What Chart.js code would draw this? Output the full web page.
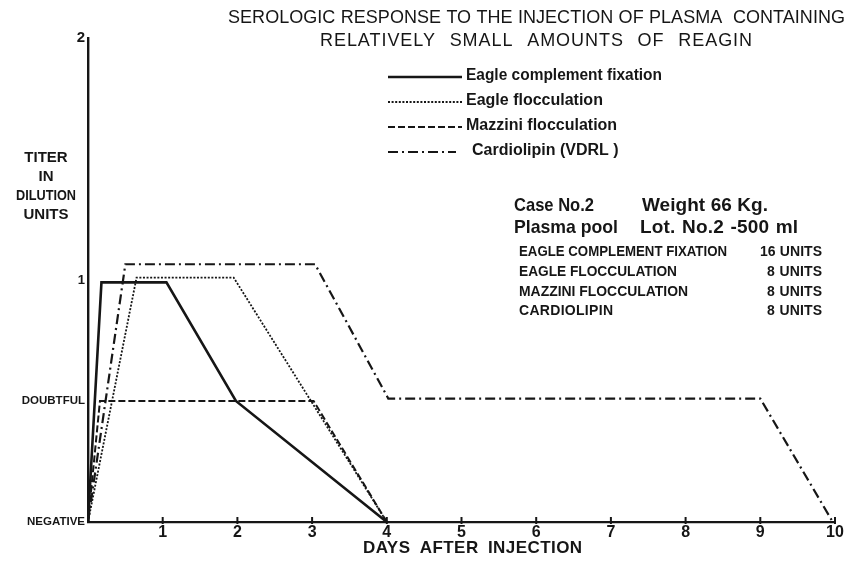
<!DOCTYPE html>
<html>
<head>
<meta charset="utf-8">
<script src="https://cdn.jsdelivr.net/npm/chart.js@4/dist/chart.umd.min.js"></script>
<style>
  html, body { margin: 0; padding: 0; background: #ffffff; }
  #wrap { width: 856px; height: 563px; }
</style>
</head>
<body>
<div id="wrap"><canvas id="c" width="856" height="563"></canvas></div>
<script>
// ---- Data ----
const seriesNames = [
  "Eagle complement fixation",
  "Eagle flocculation",
  "Mazzini flocculation",
  "Cardiolipin (VDRL )"
];
const eagleCFDays    = [0, 0.18, 1.05, 1.98, 4];
const eagleCFTiter   = [0, 0.99, 0.99, 0.5, 0];
const eagleFlocDays  = [0, 0.65, 1.95, 4];
const eagleFlocTiter = [0, 1.01, 1.01, 0];
const mazziniDays    = [0, 0.16, 3.02, 4];
const mazziniTiter   = [0, 0.5, 0.5, 0];
const cardioDays     = [0, 0.5, 3.04, 4.02, 9.0, 9.97];
const cardioTiter    = [0, 1.065, 1.065, 0.51, 0.51, 0];

const xTickLabels = ["", "1", "2", "3", "4", "5", "6", "7", "8", "9", "10"];
const yTickValues = [0, 0.5, 1, 2];
const yTickLabels = ["NEGATIVE", "DOUBTFUL", "1", "2"];

const titleLines = [
  "SEROLOGIC RESPONSE TO THE INJECTION OF PLASMA  CONTAINING",
  "RELATIVELY SMALL AMOUNTS OF REAGIN"
];
const yTitleLines = ["TITER", "IN", "DILUTION", "UNITS"];
const xTitle = "DAYS AFTER INJECTION";
const caseLines = [["Case No.2", "Weight 66 Kg."], ["Plasma pool", "Lot. No.2 -500 ml"]];
const unitNames = ["EAGLE COMPLEMENT FIXATION", "EAGLE FLOCCULATION", "MAZZINI FLOCCULATION", "CARDIOLIPIN"];
const unitValues = ["16 UNITS", "8 UNITS", "8 UNITS", "8 UNITS"];

// ---- Build datasets ----
const INK = "#161616";
const FAM = '"Liberation Sans", Arial, sans-serif';
function pts(xs, ys) { return xs.map((x, i) => ({ x: x, y: ys[i] })); }
const styles = [
  { borderWidth: 2.6, borderDash: [] },
  { borderWidth: 1.8, borderDash: [2, 1.6] },
  { borderWidth: 2.0, borderDash: [7, 3] },
  { borderWidth: 2.2, borderDash: [10, 4, 2, 4] }
];
const allData = [
  pts(eagleCFDays, eagleCFTiter),
  pts(eagleFlocDays, eagleFlocTiter),
  pts(mazziniDays, mazziniTiter),
  pts(cardioDays, cardioTiter)
];
const datasets = allData.map((d, i) => ({
  label: seriesNames[i],
  data: d,
  borderColor: INK,
  backgroundColor: INK,
  borderWidth: styles[i].borderWidth,
  borderDash: styles[i].borderDash,
  pointRadius: 0,
  tension: 0,
  fill: false
}));

// left-aligned text spanning a target width: spread letters and word gaps if narrow, squeeze if wide
function fitText(ctx, text, x, y, w) {
  ctx.letterSpacing = "0px";
  ctx.wordSpacing = "0px";
  const nat = ctx.measureText(text).width;
  const gaps = (text.match(/ /g) || []).length;
  if (nat < w && text.length > 1) {
    const extra = w - nat;
    const share = gaps > 0 ? 0.5 : 1;
    ctx.letterSpacing = (extra * share / (text.length - 1)).toFixed(2) + "px";
    if (gaps > 0) ctx.wordSpacing = (extra * (1 - share) / gaps).toFixed(2) + "px";
    ctx.fillText(text, x, y);
    ctx.letterSpacing = "0px";
    ctx.wordSpacing = "0px";
  } else {
    ctx.fillText(text, x, y, w);
  }
}

// ---- Decoration plugin: titles, legend, notes, x tick marks ----
const decor = {
  id: "decor",
  afterDraw(chart) {
    const ctx = chart.ctx;
    const xs = chart.scales.x;
    ctx.save();
    ctx.fillStyle = INK;
    ctx.strokeStyle = INK;
    ctx.textBaseline = "middle";

    // x-axis tick marks crossing the axis
    ctx.lineWidth = 2;
    ctx.setLineDash([]);
    for (let v = 1; v <= 10; v++) {
      const px = xs.getPixelForValue(v);
      ctx.beginPath();
      ctx.moveTo(px, chart.chartArea.bottom - 5);
      ctx.lineTo(px, chart.chartArea.bottom + 2);
      ctx.stroke();
    }

    // Title
    ctx.textAlign = "left";
    ctx.font = '18px ' + FAM;
    fitText(ctx, titleLines[0], 228, 18, 617);
    fitText(ctx, titleLines[1], 320, 41, 432);

    // Y title
    ctx.textAlign = "center";
    ctx.font = 'bold 15px ' + FAM;
    const yw = [44, 18, 60, 48];
    yTitleLines.forEach((t, i) => ctx.fillText(t, 46, 158 + i * 19, yw[i]));

    // X title
    ctx.textAlign = "left";
    ctx.font = 'bold 17px ' + FAM;
    fitText(ctx, xTitle, 363, 548, 219);

    // Legend
    const legY = [76, 101, 126, 151];
    const legTextX = [466, 466, 466, 472];
    const legLineEnd = [462, 462, 462, 456];
    const legTextW = [196, 146, 168, 166];
    chart.data.datasets.forEach((ds, i) => {
      ctx.beginPath();
      ctx.lineWidth = ds.borderWidth;
      ctx.setLineDash(ds.borderDash || []);
      ctx.moveTo(388, legY[i] + 1);
      ctx.lineTo(legLineEnd[i], legY[i] + 1);
      ctx.stroke();
      ctx.setLineDash([]);
      ctx.font = 'bold 16px ' + FAM;
      ctx.fillText(ds.label, legTextX[i], legY[i], legTextW[i]);
    });

    // Case notes
    ctx.font = '600 19px ' + FAM;
    fitText(ctx, caseLines[0][0], 514, 206, 80);
    fitText(ctx, caseLines[0][1], 642, 206, 126);
    fitText(ctx, caseLines[1][0], 514, 228, 104);
    fitText(ctx, caseLines[1][1], 640, 228, 158);

    ctx.font = 'bold 14px ' + FAM;
    const uy = [252, 272, 292, 311];
    const nameW = [208, 158, 169, 94];
    const valX = [760, 767, 767, 767];
    unitNames.forEach((n, i) => {
      fitText(ctx, n, 519, uy[i], nameW[i]);
      fitText(ctx, unitValues[i], valX[i], uy[i], 822 - valX[i]);
    });
    ctx.restore();
  }
};

new Chart(document.getElementById("c"), {
  type: "line",
  data: { datasets: datasets },
  options: {
    responsive: false,
    animation: false,
    events: [],
    layout: { padding: { top: 38, right: 21, left: 0, bottom: 0 } },
    plugins: { legend: { display: false }, tooltip: { enabled: false }, title: { display: false } },
    scales: {
      x: {
        type: "linear",
        min: 0, max: 10,
        grid: { display: false, drawTicks: false },
        border: { display: true, color: INK, width: 2.2 },
        afterFit(scale) { scale.height = 41; },
        ticks: {
          stepSize: 1,
          color: INK,
          padding: 1,
          maxRotation: 0,
          autoSkip: false,
          font: { family: FAM, size: 16, weight: "bold" },
          callback: (v) => xTickLabels[Math.round(v)] ?? ""
        }
      },
      y: {
        type: "linear",
        min: 0, max: 2,
        grid: { display: false, drawTicks: false },
        border: { display: true, color: INK, width: 2.4 },
        afterFit(scale) { scale.width = 88; },
        afterBuildTicks(scale) { scale.ticks = yTickValues.map(v => ({ value: v })); },
        ticks: {
          color: INK,
          padding: 3,
          autoSkip: false,
          font: (c) => {
            const v = c.tick ? c.tick.value : 0;
            const size = v === 2 ? 15 : (v === 1 ? 13 : 11.5);
            return { family: FAM, size: size, weight: "bold" };
          },
          callback: (v) => {
            const i = yTickValues.indexOf(v);
            return i >= 0 ? yTickLabels[i] : "";
          }
        }
      }
    }
  },
  plugins: [decor]
});
</script>
</body>
</html>
